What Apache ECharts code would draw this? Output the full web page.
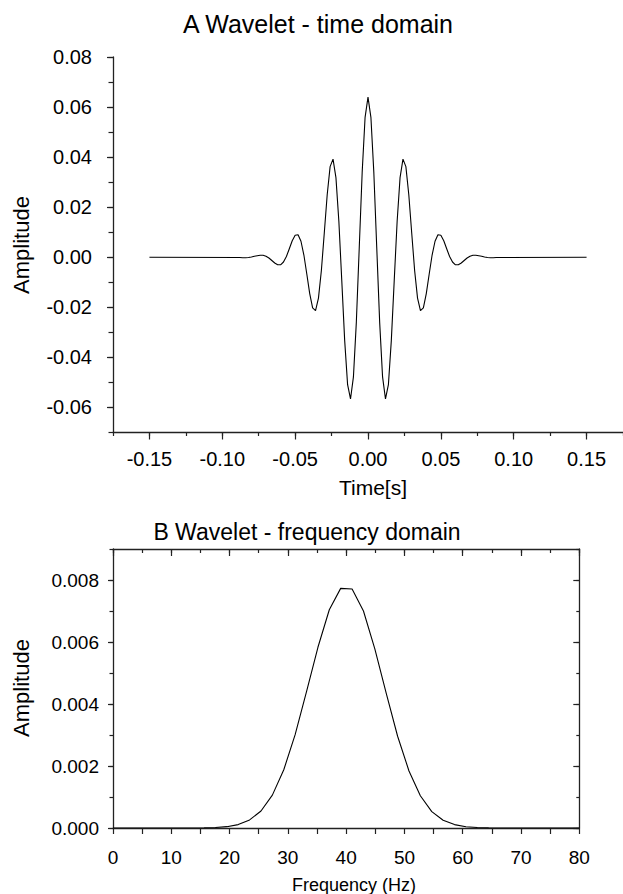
<!DOCTYPE html>
<html>
<head>
<meta charset="utf-8">
<script src="https://cdn.jsdelivr.net/npm/echarts@6/dist/echarts.min.js"></script>
<style>
html,body{margin:0;padding:0;background:#fff;}
#chart{width:623px;height:894px;}
</style>
</head>
<body>
<div id="chart"></div>
<script>
// ---- Panel A: wavelet in the time domain (sampled every 2 ms) ----
const timeS = [-0.150,
  -0.088,-0.086,-0.084,-0.082,-0.080,-0.078,-0.076,-0.074,-0.072,-0.070,-0.068,-0.066,-0.064,-0.062,-0.060,
  -0.058,-0.056,-0.054,-0.052,-0.050,-0.048,-0.046,-0.044,-0.042,-0.040,-0.038,-0.036,-0.034,-0.032,-0.030,
  -0.028,-0.026,-0.024,-0.022,-0.020,-0.018,-0.016,-0.014,-0.012,-0.010,-0.008,-0.006,-0.004,-0.002,
  0.000,
  0.002,0.004,0.006,0.008,0.010,0.012,0.014,0.016,0.018,0.020,0.022,0.024,0.026,0.028,0.030,
  0.032,0.034,0.036,0.038,0.040,0.042,0.044,0.046,0.048,0.050,0.052,0.054,0.056,0.058,0.060,
  0.062,0.064,0.066,0.068,0.070,0.072,0.074,0.076,0.078,0.080,0.082,0.084,0.086,0.088,
  0.150];
const ampTime = [0,
  -0.0001,-0.0002,-0.0002,-0.0001,0.0001,0.0004,0.0006,0.0008,0.0008,0.0004,-0.0003,-0.0013,-0.0023,-0.0030,-0.0030,
  -0.0019,0.0003,0.0034,0.0066,0.0088,0.0090,0.0064,0.0009,-0.0067,-0.0145,-0.0202,-0.0213,-0.0163,-0.0053,0.0097,
  0.0250,0.0362,0.0392,0.0318,0.0144,-0.0093,-0.0333,-0.0509,-0.0566,-0.0478,-0.0259,0.0039,0.0339,0.0559,
  0.0640,
  0.0559,0.0339,0.0039,-0.0259,-0.0478,-0.0566,-0.0509,-0.0333,-0.0093,0.0144,0.0318,0.0392,0.0362,0.0250,0.0097,
  -0.0053,-0.0163,-0.0213,-0.0202,-0.0145,-0.0067,0.0009,0.0064,0.0090,0.0088,0.0066,0.0034,0.0003,-0.0019,-0.0030,
  -0.0030,-0.0023,-0.0013,-0.0003,0.0004,0.0008,0.0008,0.0006,0.0004,0.0001,-0.0001,-0.0002,-0.0002,-0.0001,
  0];
const timeTickLabels = [-0.15,-0.10,-0.05,0.00,0.05,0.10,0.15];
const ampTimeTickLabels = [-0.06,-0.04,-0.02,0.00,0.02,0.04,0.06,0.08];

// ---- Panel B: wavelet amplitude spectrum ----
const freqHz = [0,11.72,13.67,15.63,17.58,19.53,21.48,23.44,25.39,27.34,29.30,31.25,33.20,35.16,37.11,39.06,
  41.02,42.97,44.92,46.88,48.83,50.78,52.73,54.69,56.64,58.59,60.55,62.50,64.45,66.41,68.36,80];
const ampFreq = [0,0,0.000001,0.000005,0.000015,0.000043,0.00011,0.00026,0.00055,0.00106,0.00188,0.00301,0.00440,0.00583,0.00704,0.00773,
  0.00771,0.00700,0.00578,0.00434,0.00296,0.00184,0.00104,0.00053,0.00025,0.00011,0.00004,0.000014,0.000005,0.000001,0,0];
const freqTickLabels = [0,10,20,30,40,50,60,70,80];
const ampFreqTickLabels = [0.000,0.002,0.004,0.006,0.008];

const FONT = '"Liberation Sans", Arial, Helvetica, sans-serif';
const INK = '#000';
const AXC = '#222';
const axLine = {show:true, onZero:false, lineStyle:{color:AXC, width:1.3}};
const noLine = {show:false, onZero:false};
const tickStyle = {color:AXC, width:1.2};

const chart = echarts.init(document.getElementById('chart'), null, {renderer:'svg'});

const option = {
  animation:false,
  backgroundColor:'#fff',
  grid:[
    {left:113, top:57, width:510, height:375.5},
    {left:113, top:549, width:466.3, height:279}
  ],
  xAxis:[
    {gridIndex:0, type:'value', position:'bottom', min:-0.175, max:0.175,
     axisLine:axLine,
     axisTick:{show:true, customValues:timeTickLabels, length:7, lineStyle:tickStyle},
     axisLabel:{show:true, customValues:timeTickLabels, formatter:v=>v.toFixed(2), margin:16, fontSize:20, fontFamily:FONT, color:INK},
     splitLine:{show:false}},
    {gridIndex:0, type:'value', position:'bottom', min:-0.175, max:0.175, interval:0.025,
     axisLine:noLine, axisTick:{show:true, length:3.5, lineStyle:tickStyle}, axisLabel:{show:false}, splitLine:{show:false}},
    {gridIndex:1, type:'value', position:'bottom', min:0, max:80, interval:5,
     axisLine:axLine,
     axisTick:{show:true, length:6, lineStyle:tickStyle},
     axisLabel:{show:true, customValues:freqTickLabels, formatter:v=>String(v), margin:20, fontSize:19, fontFamily:FONT, color:INK},
     splitLine:{show:false}},
    {gridIndex:1, type:'value', position:'top', min:0, max:80,
     axisLine:axLine,
     axisTick:{show:true, inside:true, customValues:freqTickLabels, length:7, lineStyle:tickStyle},
     axisLabel:{show:false}, splitLine:{show:false}},
    {gridIndex:1, type:'value', position:'top', min:0, max:80, interval:5,
     axisLine:noLine, axisTick:{show:true, inside:true, length:4, lineStyle:tickStyle}, axisLabel:{show:false}, splitLine:{show:false}}
  ],
  yAxis:[
    {gridIndex:0, type:'value', position:'left', min:-0.07, max:0.08,
     axisLine:axLine,
     axisTick:{show:true, customValues:ampTimeTickLabels, length:6, lineStyle:tickStyle},
     axisLabel:{show:true, customValues:ampTimeTickLabels, formatter:v=>v.toFixed(2), margin:21, fontSize:20, fontFamily:FONT, color:INK},
     splitLine:{show:false}},
    {gridIndex:0, type:'value', position:'left', min:-0.07, max:0.08, interval:0.01,
     axisLine:noLine, axisTick:{show:true, length:4.5, lineStyle:tickStyle}, axisLabel:{show:false}, splitLine:{show:false}},
    {gridIndex:1, type:'value', position:'left', min:0, max:0.009,
     axisLine:axLine,
     axisTick:{show:true, customValues:ampFreqTickLabels, length:5, lineStyle:tickStyle},
     axisLabel:{show:true, customValues:ampFreqTickLabels, formatter:v=>v.toFixed(3), margin:14, fontSize:19, fontFamily:FONT, color:INK},
     splitLine:{show:false}},
    {gridIndex:1, type:'value', position:'left', min:0, max:0.009, interval:0.001,
     axisLine:noLine, axisTick:{show:true, length:3.5, lineStyle:tickStyle}, axisLabel:{show:false}, splitLine:{show:false}},
    {gridIndex:1, type:'value', position:'right', min:0, max:0.009,
     axisLine:axLine,
     axisTick:{show:true, inside:true, customValues:ampFreqTickLabels, length:6, lineStyle:tickStyle},
     axisLabel:{show:false}, splitLine:{show:false}},
    {gridIndex:1, type:'value', position:'right', min:0, max:0.009, interval:0.001,
     axisLine:noLine, axisTick:{show:true, inside:true, length:3, lineStyle:tickStyle}, axisLabel:{show:false}, splitLine:{show:false}}
  ],
  series:[
    {name:'A Wavelet - time domain', type:'line', xAxisIndex:0, yAxisIndex:0,
     data:timeS.map((t,i)=>[t, ampTime[i]]),
     showSymbol:false, symbol:'none', lineStyle:{color:'#000', width:1.1}, clip:true, silent:true},
    {name:'B Wavelet - frequency domain', type:'line', xAxisIndex:2, yAxisIndex:2,
     data:freqHz.map((f,i)=>[f, ampFreq[i]]),
     showSymbol:false, symbol:'none', lineStyle:{color:'#000', width:1.1}, clip:true, silent:true}
  ],
  graphic:[
    {type:'text', x:318, y:24, style:{text:'A Wavelet - time domain', fill:INK, fontSize:25, fontFamily:FONT, align:'center', verticalAlign:'middle'}},
    {type:'text', x:307, y:532, style:{text:'B Wavelet - frequency domain', fill:INK, fontSize:23, fontFamily:FONT, align:'center', verticalAlign:'middle'}},
    {type:'text', x:21, y:245, rotation:Math.PI/2, style:{text:'Amplitude', fill:INK, fontSize:22, fontFamily:FONT, align:'center', verticalAlign:'middle'}},
    {type:'text', x:21, y:688, rotation:Math.PI/2, style:{text:'Amplitude', fill:INK, fontSize:22, fontFamily:FONT, align:'center', verticalAlign:'middle'}},
    {type:'text', x:373, y:487, style:{text:'Time[s]', fill:INK, fontSize:21, fontFamily:FONT, align:'center', verticalAlign:'middle'}},
    {type:'text', x:354, y:885, style:{text:'Frequency (Hz)', fill:INK, fontSize:18, fontFamily:FONT, align:'center', verticalAlign:'middle'}}
  ]
};
chart.setOption(option);
</script>
</body>
</html>
